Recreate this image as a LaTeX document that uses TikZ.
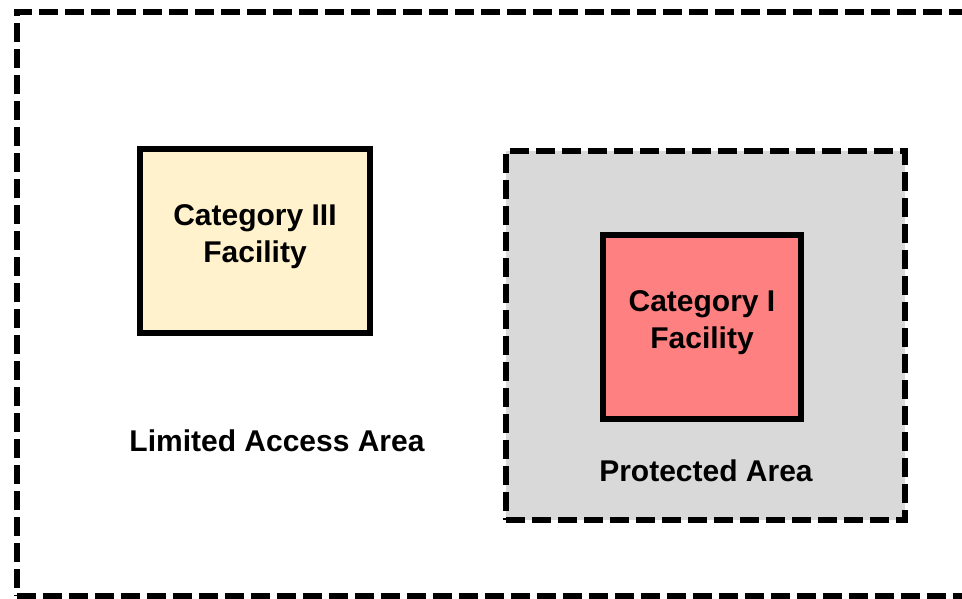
\documentclass[tikz,border=0pt]{standalone}
\usepackage{fontspec}
\setmainfont{Liberation Sans}
\usepackage{xcolor}
\definecolor{fcyellow}{RGB}{255,242,204}
\definecolor{fcred}{RGB}{255,128,128}
\definecolor{fcgray}{RGB}{217,217,217}
\usetikzlibrary{positioning}

% extra depth under the last line, lifts the text a little in its box
\newcommand{\liftstrut}{\rule[-15pt]{0pt}{15pt}}

\tikzset{
  areabox/.style={draw=black, line width=6pt, dash pattern=on 19pt off 7pt,
                  inner sep=0pt},
  facilitybox/.style={draw=black, line width=6pt, inner sep=0pt, align=center,
                      font=\fontsize{30}{37}\selectfont\bfseries},
  arealabel/.style={font=\fontsize{30}{37}\selectfont\bfseries}
}

\begin{document}
\begin{tikzpicture}[x=1pt, y=-1pt]

\useasboundingbox (0,0) rectangle (962,598);

% === Limited access area (outer) ===
\node[areabox, minimum width=963pt, minimum height=584.5pt] (limited) at (498.5,303.75) {};
\node[arealabel] (limitedlabel) at (277,441) {Limited Access Area};

% === Category III facility ===
\node[facilitybox, fill=fcyellow, minimum width=230pt, minimum height=184pt]
     (catthree) at (255,241) {Category III\\Facility\liftstrut};

% === Protected area ===
\node[areabox, fill=fcgray, minimum width=399pt, minimum height=369pt] (protected) at (705.5,335.5) {};
\node[arealabel] (protectedlabel) at (706,471) {Protected Area};

% === Category I facility ===
\node[facilitybox, fill=fcred, minimum width=198pt, minimum height=184.5pt]
     (catone) at (702,326.75) {Category I\\Facility\liftstrut};

\end{tikzpicture}
\end{document}
